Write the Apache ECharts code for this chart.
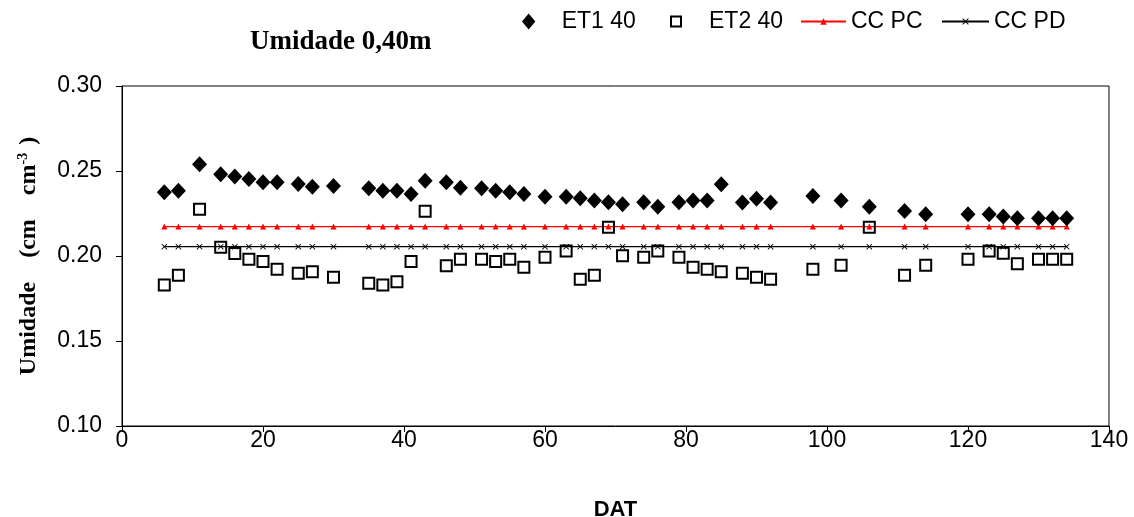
<!DOCTYPE html>
<html>
<head>
<meta charset="utf-8">
<script src="https://cdn.jsdelivr.net/npm/echarts@6/dist/echarts.min.js"></script>
<style>html,body{margin:0;padding:0;background:#fff}#c{width:1134px;height:517px}</style>
</head>
<body>
<div id="c"></div>
<script>
// DAT (days after transplanting)
const dat = [6,8,11,14,16,18,20,22,25,27,30,35,37,39,41,43,46,48,51,53,55,57,60,63,65,67,69,71,74,76,79,81,83,85,88,90,92,98,102,106,111,114,120,123,125,127,130,132,134];
const et1 = [0.2375,0.2384,0.2540,0.2481,0.2467,0.2453,0.2434,0.2434,0.2424,0.2408,0.2412,0.2398,0.2384,0.2384,0.2365,0.2443,0.2434,0.2402,0.2398,0.2384,0.2375,0.2365,0.2349,0.2349,0.2340,0.2326,0.2316,0.2304,0.2316,0.2290,0.2316,0.2326,0.2326,0.2422,0.2314,0.2337,0.2314,0.2353,0.2326,0.2290,0.2265,0.2245,0.2245,0.2245,0.2232,0.2222,0.2222,0.2222,0.2222];
const et2 = [0.1829,0.1887,0.2275,0.2051,0.2014,0.1981,0.1967,0.1922,0.1898,0.1908,0.1875,0.1840,0.1830,0.1849,0.1967,0.2263,0.1943,0.1981,0.1981,0.1967,0.1981,0.1934,0.1993,0.2030,0.1863,0.1887,0.2169,0.2002,0.1993,0.2030,0.1993,0.1934,0.1922,0.1908,0.1898,0.1875,0.1863,0.1922,0.1946,0.2169,0.1887,0.1946,0.1981,0.2030,0.2016,0.1955,0.1981,0.1981,0.1981];
const ccPC = dat.map(() => 0.2173);
const ccPD = dat.map(() => 0.2055);
const seriesNames = ['ET1 40', 'ET2 40', 'CC PC', 'CC PD'];
const xTicks = {min: 0, max: 140, interval: 20};
const yTicks = {min: 0.10, max: 0.30, interval: 0.05};

const pairs = (ys) => dat.map((d, i) => [d, ys[i]]);
const SANS = 'Liberation Sans, Arial, sans-serif';
const SERIF = 'Liberation Serif, Times New Roman, serif';
const diamond = 'path://M5,0L10,6L5,12L0,6Z';
const square = 'path://M0,0L10,0L10,10L0,10Z';
const cross = 'path://M0,1L1,0L5,4L9,0L10,1L6,5L10,9L9,10L5,6L1,10L0,9L4,5Z';

const legendBase = {top: 10, padding: 0, textStyle: {fontFamily: SANS, fontSize: 23, color: '#000'}, selectedMode: false, symbolKeepAspect: true};

const chart = echarts.init(document.getElementById('c'), null, {renderer: 'canvas'});
chart.setOption({
  animation: false,
  backgroundColor: '#fff',
  title: {
    text: 'Umidade 0,40m', left: 245, top: 24,
    textStyle: {fontFamily: SERIF, fontWeight: 'bold', fontSize: 27, color: '#000'}
  },
  legend: [
    Object.assign({}, legendBase, {left: 522, itemWidth: 56, itemHeight: 16, data: [seriesNames[0]]}),
    Object.assign({}, legendBase, {left: 670, itemWidth: 56, itemHeight: 10, data: [seriesNames[1]]}),
    Object.assign({}, legendBase, {left: 800, itemWidth: 45, itemHeight: 8, data: [seriesNames[2]]}),
    Object.assign({}, legendBase, {left: 941, itemWidth: 47, itemHeight: 8, data: [seriesNames[3]]})
  ],
  grid: {left: 122, right: 25, top: 86, bottom: 91, show: true, borderColor: '#000', borderWidth: 1, containLabel: false, outerBoundsMode: 'none'},
  xAxis: {
    type: 'value', min: xTicks.min, max: xTicks.max, interval: xTicks.interval,
    name: 'DAT', nameLocation: 'middle', nameGap: 73,
    nameTextStyle: {fontFamily: SANS, fontWeight: 'bold', fontSize: 22, color: '#000'},
    axisLine: {show: true, lineStyle: {color: '#000', width: 1}},
    axisTick: {show: true, inside: false, length: 6, lineStyle: {color: '#000'}},
    axisLabel: {fontFamily: SANS, fontSize: 23, color: '#000', margin: 3},
    splitLine: {show: false}
  },
  yAxis: {
    type: 'value', min: yTicks.min, max: yTicks.max, interval: yTicks.interval,
    name: '{a|Umidade}{g|}{a|(cm}{g|}{a|cm}{s|-3}{p|)}', nameLocation: 'middle', nameGap: 80,
    nameTextStyle: {
      color: '#000',
      rich: {
        a: {fontFamily: SERIF, fontWeight: 'bold', fontSize: 24, color: '#000', lineHeight: 26},
        g: {width: 24, fontSize: 24, lineHeight: 26},
        s: {fontFamily: SERIF, fontWeight: 'bold', fontSize: 14, color: '#000', verticalAlign: 'top', lineHeight: 26, padding: [0, 0, 12, 0]},
        p: {fontFamily: SERIF, fontWeight: 'bold', fontSize: 24, color: '#000', lineHeight: 26, padding: [0, 0, 0, 8]}
      }
    },
    axisLine: {show: true, lineStyle: {color: '#000', width: 1}},
    axisTick: {show: true, inside: false, length: 6, lineStyle: {color: '#000'}},
    axisLabel: {fontFamily: SANS, fontSize: 23, color: '#000', margin: 20, formatter: v => v.toFixed(2)},
    splitLine: {show: false}
  },
  series: [
    {
      name: seriesNames[2], type: 'line', data: pairs(ccPC), z: 2,
      symbol: 'triangle', symbolSize: 6, showAllSymbol: true,
      lineStyle: {color: '#ff0000', width: 1.2}, itemStyle: {color: '#ff0000'}
    },
    {
      name: seriesNames[3], type: 'line', data: pairs(ccPD), z: 2,
      symbol: cross, symbolSize: 6, showAllSymbol: true,
      lineStyle: {color: '#000', width: 1.2}, itemStyle: {color: '#000'}
    },
    {
      name: seriesNames[0], type: 'scatter', data: pairs(et1), z: 3,
      symbol: diamond, symbolSize: [15, 16],
      itemStyle: {color: '#000', opacity: 1}
    },
    {
      name: seriesNames[1], type: 'scatter', data: pairs(et2), z: 3,
      symbol: square, symbolSize: 11,
      itemStyle: {color: 'rgba(255,255,255,0)', borderColor: '#000', borderWidth: 2, opacity: 1}
    }
  ]
});
</script>
</body>
</html>
